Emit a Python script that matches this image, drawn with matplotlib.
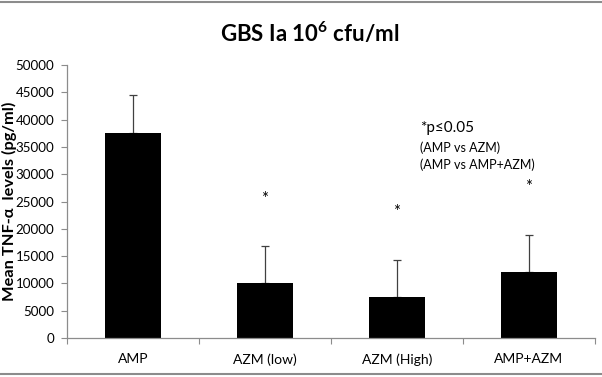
import matplotlib
matplotlib.use("Agg")
import matplotlib.pyplot as plt
from matplotlib.lines import Line2D

plt.rcParams['font.family'] = ['Lato', 'DejaVu Sans']
plt.rcParams['mathtext.default'] = 'regular'

# values
groups = ['AMP', 'AZM (low)', 'AZM (High)', 'AMP+AZM']
means = [37600, 10050, 7550, 12100]
errors = [6900, 6800, 6800, 6800]
star_y = [None, 25500, 23000, 27600]

fig = plt.figure(figsize=(6.02, 3.77), dpi=100)
ax = fig.add_axes([0.1113, 0.1034, 0.8767, 0.7242])

x = list(range(len(groups)))
ax.bar(x, means, width=0.42, color='black', zorder=2)
ax.errorbar(x, means, yerr=[[0] * len(errors), errors], fmt='none',
            ecolor='#404040', elinewidth=0.9, capsize=3, capthick=0.9, zorder=1)

for xi, sy in zip(x, star_y):
    if sy is not None:
        ax.text(xi, sy, '*', ha='center', va='center', fontsize=12)

ax.set_xlim(-0.5, 3.5)
ax.set_ylim(0, 50000)
ax.set_yticks(range(0, 50001, 5000))
ax.set_xticks([-0.5, 0.5, 1.5, 2.5, 3.5])
ax.set_xticklabels([])
ax.set_xticks(x, minor=True)
ax.set_xticklabels(groups, minor=True)
ax.tick_params(axis='x', which='minor', length=0, pad=11, labelsize=10)
ax.tick_params(axis='x', which='major', length=4, color='#8c8c8c', direction='out')
ax.tick_params(axis='y', length=4, color='#8c8c8c', labelsize=9.6, pad=5)

for side in ['top', 'right']:
    ax.spines[side].set_visible(False)
for side in ['left', 'bottom']:
    ax.spines[side].set_color('#8c8c8c')
    ax.spines[side].set_linewidth(0.9)

ax.set_ylabel('Mean TNF-α  levels (pg/ml)', fontsize=11.8, fontweight='bold')
ax.yaxis.set_label_coords(-0.094, 0.5)
fig.text(0.515, 0.912, 'GBS Ia 10$^{6}$ cfu/ml', ha='center', va='center',
         fontsize=16, fontweight='bold')

fig.text(0.697, 0.66, '*p≤0.05', fontsize=11, va='center')
fig.text(0.697, 0.607, '(AMP vs AZM)', fontsize=9, va='center')
fig.text(0.697, 0.562, '(AMP vs AMP+AZM)', fontsize=9, va='center')

# gray frame lines at top and bottom of the picture
fig.add_artist(Line2D([0, 1], [0.995, 0.995], color='#8c8c8c', lw=1.5, transform=fig.transFigure))
fig.add_artist(Line2D([0, 1], [0.008, 0.008], color='#8c8c8c', lw=1.5, transform=fig.transFigure))

fig.savefig('out.png', dpi=100)
